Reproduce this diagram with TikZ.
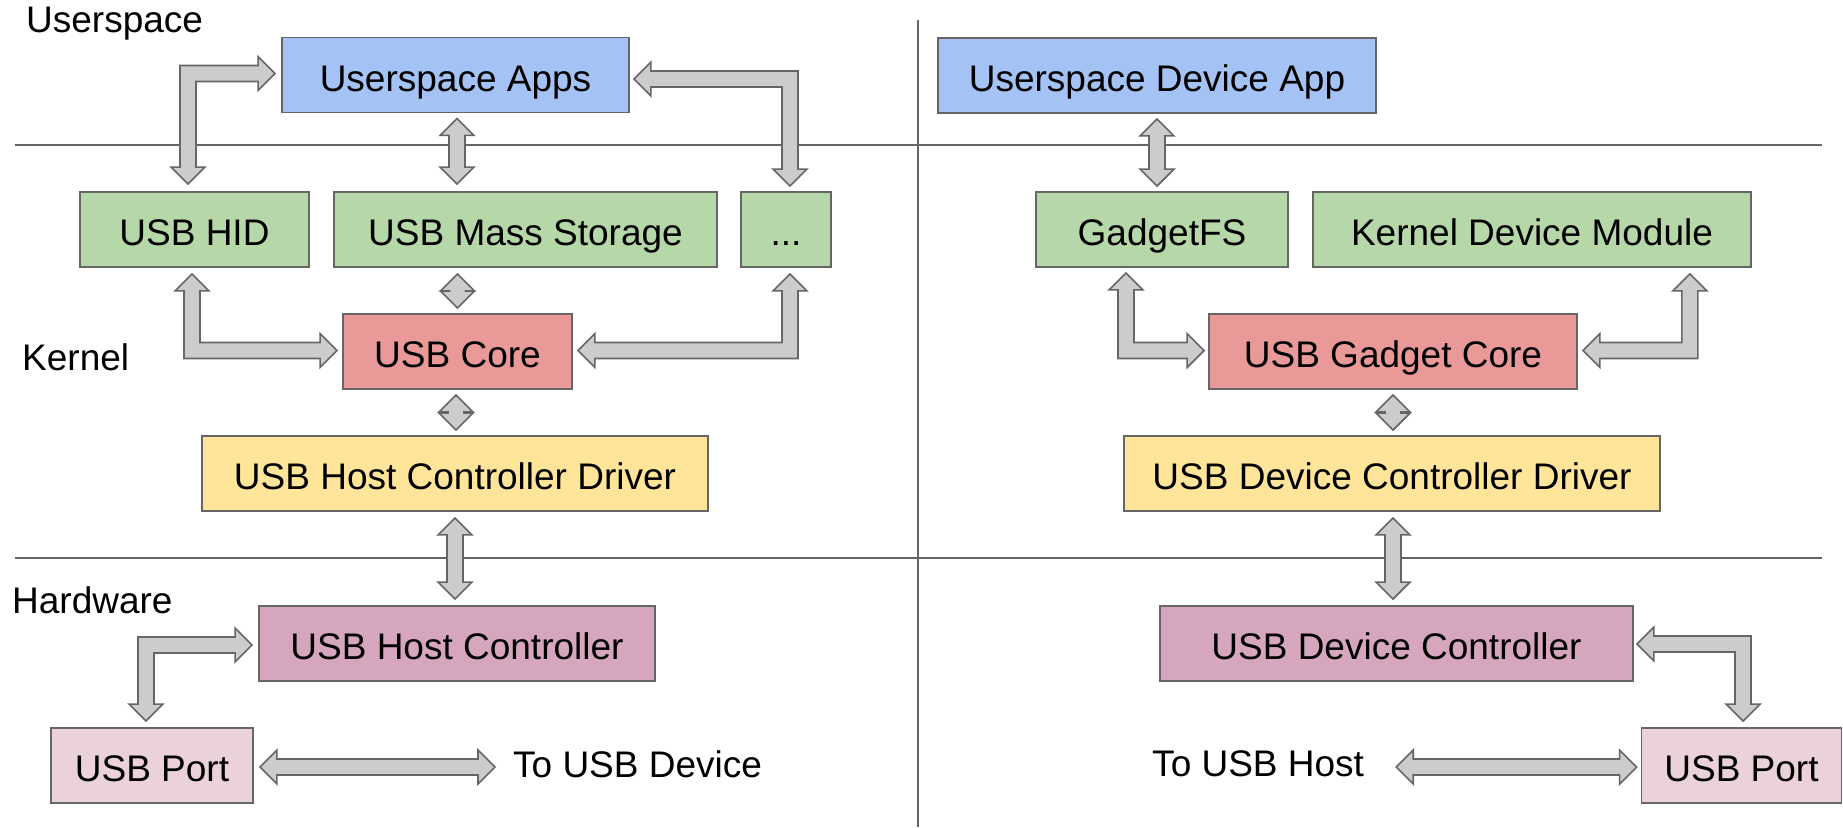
\documentclass[tikz,border=0pt]{standalone}
\usepackage{fontspec}
\setmainfont{Liberation Sans}
\usetikzlibrary{calc}

\definecolor{linegray}{HTML}{666666}
\definecolor{arrowfill}{HTML}{CCCCCC}
\definecolor{appblue}{HTML}{A4C2F4}
\definecolor{modgreen}{HTML}{B6D7A8}
\definecolor{corered}{HTML}{EA9999}
\definecolor{drvyellow}{HTML}{FFE599}
\definecolor{hwpurple}{HTML}{D5A6BD}
\definecolor{portpink}{HTML}{EAD1DC}

% block arrow dimensions: half shaft width, half head width, head length
\def\as{8pt}
\def\ah{17pt}
\def\al{17pt}

% vertical double block arrow: #1 upper tip, #2 lower tip (x taken from #1)
\newcommand\vdarr[2]{%
  \path[blockarrow] let \p1=(#1), \p2=(#2) in
    (\x1,\y1) -- ({\x1+\ah},{\y1-\al}) -- ({\x1+\as},{\y1-\al})
    -- ({\x1+\as},{\y2+\al}) -- ({\x1+\ah},{\y2+\al}) -- (\x1,\y2)
    -- ({\x1-\ah},{\y2+\al}) -- ({\x1-\as},{\y2+\al})
    -- ({\x1-\as},{\y1-\al}) -- ({\x1-\ah},{\y1-\al}) -- cycle;}

% horizontal double block arrow: #1 left tip, #2 right tip (y taken from #1)
\newcommand\hdarr[2]{%
  \path[blockarrow] let \p1=(#1), \p2=(#2) in
    (\x1,\y1) -- ({\x1+\al},{\y1+\ah}) -- ({\x1+\al},{\y1+\as})
    -- ({\x2-\al},{\y1+\as}) -- ({\x2-\al},{\y1+\ah}) -- (\x2,\y1)
    -- ({\x2-\al},{\y1-\ah}) -- ({\x2-\al},{\y1-\as})
    -- ({\x1+\al},{\y1-\as}) -- ({\x1+\al},{\y1-\ah}) -- cycle;}

% elbow double block arrow: #1 tip of the vertical leg, #2 tip of the
% horizontal leg, #3 x direction towards #2, #4 y direction (page up = 1)
\newcommand\elbarr[4]{%
  \path[blockarrow] let \p1=(#1), \p2=(#2) in
    (\x1,\y1)
    -- ({\x1+(#3)*\ah},{\y1+(#4)*\al}) -- ({\x1+(#3)*\as},{\y1+(#4)*\al})
    -- ({\x1+(#3)*\as},{\y2-(#4)*\as})
    -- ({\x2-(#3)*\al},{\y2-(#4)*\as}) -- ({\x2-(#3)*\al},{\y2-(#4)*\ah})
    -- (\x2,\y2)
    -- ({\x2-(#3)*\al},{\y2+(#4)*\ah}) -- ({\x2-(#3)*\al},{\y2+(#4)*\as})
    -- ({\x1-(#3)*\as},{\y2+(#4)*\as})
    -- ({\x1-(#3)*\as},{\y1+(#4)*\al}) -- ({\x1-(#3)*\ah},{\y1+(#4)*\al})
    -- cycle;}

\tikzset{
  blockarrow/.style={fill=arrowfill, draw=linegray, line width=1.6pt, line join=miter},
  box/.style={draw=linegray, line width=1.8pt, rectangle, inner sep=0pt,
    minimum height=75pt, text height=32pt, text depth=0pt,
    font=\fontsize{37}{44}\selectfont},
  lbl/.style={inner sep=0pt, anchor=base west, font=\fontsize{37}{44}\selectfont},
  sep/.style={draw=linegray, line width=2pt},
}

\begin{document}
\begin{tikzpicture}[x=1pt, y=-1pt]
\useasboundingbox (0,0) rectangle (1843,827);

% layer separators
\draw[sep] (15,145) -- (1822,145);
\draw[sep] (15,558) -- (1822,558);
\draw[sep] (918,20) -- (918,827);

% layer labels
\node[lbl] (luser) at (26,32) {Userspace};
\node[lbl] (lkern) at (22,370) {Kernel};
\node[lbl] (lhw) at (12,613) {Hardware};

% host side
\node[box, fill=appblue,   minimum width=347pt] (apps) at (455.5,75) {Userspace Apps};
\node[box, fill=modgreen,  minimum width=229pt] (hid)  at (194.5,229.5) {USB HID};
\node[box, fill=modgreen,  minimum width=383pt] (mass) at (525.5,229.5) {USB Mass Storage};
\node[box, fill=modgreen,  minimum width=90pt]  (dots) at (786,229.5) {...};
\node[box, fill=corered,   minimum width=229pt] (core) at (457.5,351.5) {USB Core};
\node[box, fill=drvyellow, minimum width=506pt] (hcd)  at (455,473.5) {USB Host Controller Driver};
\node[box, fill=hwpurple,  minimum width=396pt] (hc)   at (457,643.5) {USB Host Controller};
\node[box, fill=portpink,  minimum width=202pt] (portL) at (152,765.5) {USB Port};
\node[lbl] (todev) at (513,777) {To USB Device};

% device side
\node[box, fill=appblue,   minimum width=438pt] (devapp) at (1157,75.5) {Userspace Device App};
\node[box, fill=modgreen,  minimum width=252pt] (gfs)  at (1162,229.5) {GadgetFS};
\node[box, fill=modgreen,  minimum width=438pt] (kdm)  at (1532,229.5) {Kernel Device Module};
\node[box, fill=corered,   minimum width=368pt] (gcore) at (1393,351.5) {USB Gadget Core};
\node[box, fill=drvyellow, minimum width=536pt] (dcd)  at (1392,473.5) {USB Device Controller Driver};
\node[box, fill=hwpurple,  minimum width=473pt] (dc)   at (1396.5,643.5) {USB Device Controller};
\node[box, fill=portpink,  minimum width=200pt] (portR) at (1741.5,765.5) {USB Port};
\node[lbl] (tohost) at (1152,776) {To USB Host};

% host side connections
\elbarr{$(hid.north)+(-6.5,-7)$}{$(apps.west)+(-6,-1.5)$}{1}{1}
\vdarr{$(apps.south)+(1.5,5)$}{$(mass.north)+(0,-7)$}
\elbarr{$(dots.north)+(4,-5)$}{$(apps.east)+(4,4)$}{-1}{1}
\vdarr{$(core.north |- mass.south)+(0,6)$}{$(core.north)+(0,-5)$}
\elbarr{$(hid.south)+(-2.5,6)$}{$(core.west)+(-5,-1)$}{1}{-1}
\elbarr{$(dots.south)+(4,6)$}{$(core.east)+(5,-1)$}{-1}{-1}
\vdarr{$(core.south)+(-1.5,5)$}{$(hcd.north)+(0,-5)$}
\vdarr{$(hcd.south)+(0,6)$}{$(hc.north)+(0,-6)$}
\elbarr{$(portL.north)+(-6,-6)$}{$(hc.west)+(-6,1.5)$}{1}{1}
\hdarr{$(portL.east)+(6,1.5)$}{$(todev.west)+(-18,0)$}

% device side connections
\vdarr{$(devapp.south)+(0,5)$}{$(gfs.north)+(0,-5)$}
\elbarr{$(gfs.south)+(-36,5)$}{$(gcore.west)+(-4,-1)$}{1}{-1}
\elbarr{$(kdm.south east)+(-62,6)$}{$(gcore.east)+(5,-1)$}{-1}{-1}
\vdarr{$(gcore.south)+(0,5)$}{$(dcd.north)+(0,-5)$}
\vdarr{$(dcd.south)+(1,6)$}{$(dc.north)+(0,-6)$}
\elbarr{$(portR.north)+(1.5,-6)$}{$(dc.east)+(3,0.5)$}{-1}{1}
\hdarr{$(tohost.east |- portR.west)+(32,1.5)$}{$(portR.west)+(-4,0)$}
\end{tikzpicture}
\end{document}
